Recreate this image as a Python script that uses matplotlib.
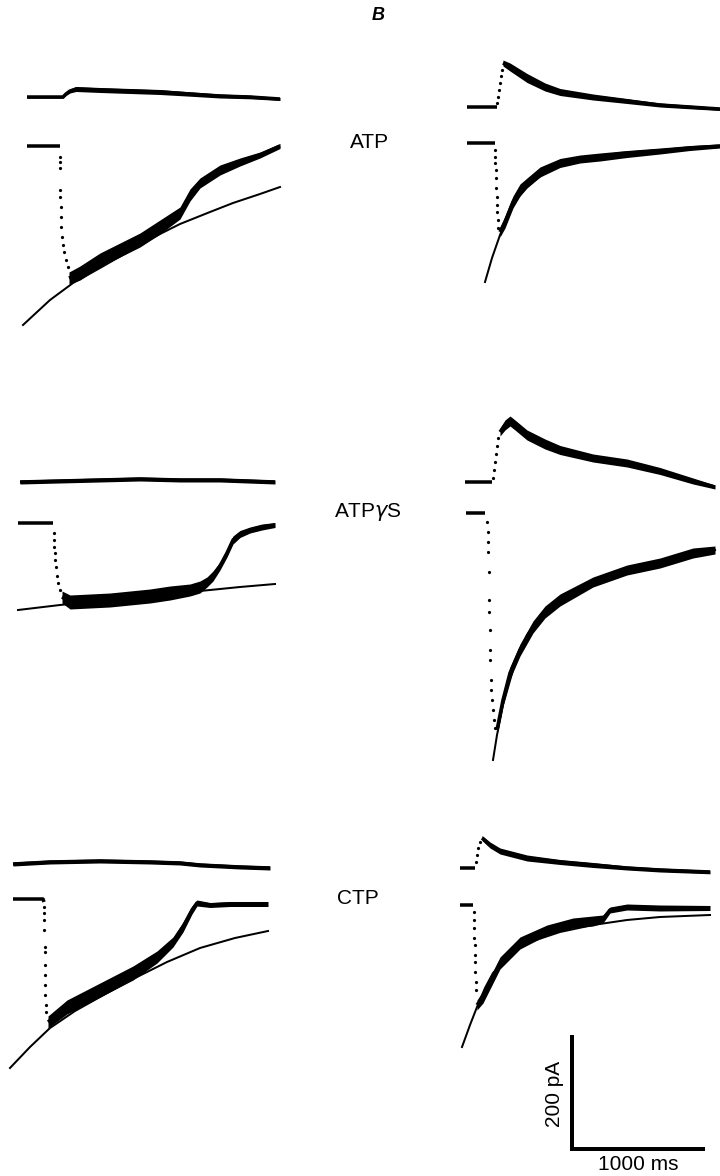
import numpy as np
import matplotlib
matplotlib.use("Agg")
import matplotlib.pyplot as plt

# all values, in image pixels (x right, y down)

# ---- ATP, left cell ----
atp_l_top_x = [27, 63, 66, 70, 76, 100, 130, 160, 190, 220, 250, 280]
atp_l_top_y = [97, 97, 94, 91, 89, 90, 91, 92, 94, 96, 97, 99]
atp_l_top_w = [1.2, 1.2, 1.5, 2, 2.5, 2.5, 2.5, 2.5, 2.2, 2, 1.8, 1.5]
atp_l_base_x = [27, 60]
atp_l_base_y = [146, 146]
atp_l_drop_x = [60, 60, 60, 60, 60, 61, 61, 61, 62, 63, 64, 66, 68]
atp_l_drop_y = [157, 162, 168, 190, 197, 207, 217, 227, 237, 245, 252, 260, 267]
atp_l_bot_x = [69, 80, 100, 120, 140, 160, 180, 190, 200, 220, 240, 260, 280]
atp_l_bot_y = [278, 273, 260, 250, 240, 227, 213, 195, 183, 170, 162, 155, 146]
atp_l_bot_w = [6, 7, 7, 7, 7, 7, 6, 6, 5, 5, 4, 3, 2.5]
atp_l_fit_x = [23, 50, 73, 100, 133, 160, 180, 210, 233, 260, 280]
atp_l_fit_y = [325, 300, 283, 268, 249, 234, 224, 212, 203, 194, 187]

# ---- ATP, right cell ----
atp_r_top_base_x = [467, 497]
atp_r_top_base_y = [107, 107]
atp_r_rise_x = [497, 498, 499, 500, 501, 502]
atp_r_rise_y = [103, 97, 90, 83, 76, 70]
atp_r_top_x = [503, 510, 527, 545, 560, 593, 627, 660, 690, 720]
atp_r_top_y = [63, 67, 78, 87, 92, 97, 101, 105, 107, 109]
atp_r_top_w = [3, 4, 4.5, 4, 3.5, 3, 2.5, 2, 1.8, 1.5]
atp_r_base_x = [467, 495]
atp_r_base_y = [143, 143]
atp_r_drop_x = [495, 495, 495, 496, 496, 496, 497, 497, 497, 498, 498]
atp_r_drop_y = [150, 157, 163, 170, 178, 188, 197, 205, 212, 220, 228]
atp_r_bot_x = [500, 505, 513, 520, 527, 540, 560, 580, 600, 627, 660, 690, 720]
atp_r_bot_y = [232, 222, 202, 190, 183, 172, 163, 159, 157, 154, 151, 148, 146]
atp_r_bot_w = [5, 6, 6, 6, 5, 5, 4.5, 4, 4, 3.5, 3, 2.5, 2]
atp_r_fit_x = [485, 492, 500, 508, 515, 527, 545, 560, 590, 620, 660, 720]
atp_r_fit_y = [282, 258, 235, 215, 202, 186, 173, 166, 158, 153, 150, 147]

# ---- ATPgS, left cell ----
gs_l_top_x = [20, 60, 100, 140, 180, 220, 275]
gs_l_top_y = [482, 481, 480, 479, 480, 480, 482]
gs_l_top_w = [2, 2, 2, 2, 2, 2, 2]
gs_l_base_x = [18, 53]
gs_l_base_y = [523, 523]
gs_l_drop_x = [54, 54, 54, 55, 55, 56, 57, 58, 60]
gs_l_drop_y = [533, 540, 547, 553, 560, 567, 576, 583, 590]
gs_l_bot_x = [62, 70, 90, 110, 130, 150, 170, 190, 200, 207, 213, 220, 227, 233, 240, 250, 262, 275]
gs_l_bot_y = [597, 602, 601, 600, 598, 596, 593, 590, 587, 582, 576, 566, 553, 540, 534, 530, 527, 525]
gs_l_bot_w = [6, 7, 7, 7, 7, 7, 7, 6, 6, 5, 5, 4, 4, 4, 3.5, 3, 3, 2.5]
gs_l_fit_x = [18, 60, 100, 150, 200, 240, 275]
gs_l_fit_y = [610, 605, 601, 596, 591, 587, 584]

# ---- ATPgS, right cell ----
gs_r_top_base_x = [465, 492]
gs_r_top_base_y = [482, 482]
gs_r_rise_x = [493, 494, 495, 496, 497, 498]
gs_r_rise_y = [478, 470, 462, 454, 446, 438]
gs_r_top_x = [500, 505, 510, 515, 527, 545, 560, 593, 627, 660, 693, 715]
gs_r_top_y = [432, 425, 421, 425, 435, 444, 450, 458, 463, 471, 481, 487]
gs_r_top_w = [4, 5, 5, 5, 5, 5, 4.5, 4, 4, 3.5, 3, 2]
gs_r_base_x = [466, 485]
gs_r_base_y = [513, 513]
gs_r_drop_x = [487, 488, 488, 488, 489, 489, 489, 490, 490, 490, 491, 491, 492, 493, 494, 495]
gs_r_drop_y = [522, 532, 542, 552, 572, 600, 612, 630, 650, 660, 680, 690, 700, 710, 720, 728]
gs_r_bot_x = [497, 503, 510, 520, 533, 545, 560, 593, 627, 660, 693, 715]
gs_r_bot_y = [730, 700, 673, 650, 627, 612, 600, 582, 570, 563, 553, 550]
gs_r_bot_w = [5, 6, 6, 6, 6, 6, 6, 5, 5, 5, 5, 4]
gs_r_fit_x = [493, 497, 503, 513, 527, 545, 560, 593, 627, 660, 693, 715]
gs_r_fit_y = [760, 735, 705, 670, 635, 612, 600, 582, 570, 561, 554, 550]

# ---- CTP, left cell ----
ctp_l_top_x = [13, 50, 100, 150, 180, 200, 240, 270]
ctp_l_top_y = [864, 862, 861, 862, 863, 865, 867, 868]
ctp_l_top_w = [2, 2, 2, 2, 2, 2, 2, 2]
ctp_l_base_x = [13, 43, 44]
ctp_l_base_y = [899, 899, 902]
ctp_l_drop_x = [44, 44, 44, 44, 45, 45, 45, 45, 45, 45, 46, 46]
ctp_l_drop_y = [907, 913, 920, 930, 947, 952, 965, 975, 985, 995, 1005, 1012]
ctp_l_bot_x = [48, 67, 100, 133, 157, 173, 183, 192, 197, 210, 230, 268]
ctp_l_bot_y = [1022, 1007, 990, 973, 957, 942, 927, 910, 903, 905, 904, 904]
ctp_l_bot_w = [6, 7, 7, 7, 6, 5, 5, 4, 3, 2.5, 2.5, 2.5]
ctp_l_fit_x = [10, 30, 50, 75, 100, 133, 167, 200, 235, 268]
ctp_l_fit_y = [1068, 1047, 1028, 1011, 997, 979, 962, 948, 938, 931]

# ---- CTP, right cell ----
ctp_r_top_base_x = [460, 475]
ctp_r_top_base_y = [868, 868]
ctp_r_rise_x = [476, 477, 478, 480]
ctp_r_rise_y = [862, 855, 848, 842]
ctp_r_top_x = [482, 490, 500, 527, 560, 593, 627, 660, 710]
ctp_r_top_y = [838, 845, 851, 858, 862, 865, 868, 870, 872]
ctp_r_top_w = [2.5, 3, 3, 3, 2.5, 2.5, 2, 2, 1.8]
ctp_r_base_x = [460, 473]
ctp_r_base_y = [905, 905]
ctp_r_drop_x = [474, 474, 474, 474, 475, 475, 475, 475, 476, 476]
ctp_r_drop_y = [912, 920, 928, 938, 945, 955, 962, 972, 982, 990]
ctp_r_bot_x = [477, 483, 500, 520, 547, 573, 593, 603, 610, 627, 660, 710]
ctp_r_bot_y = [1005, 997, 963, 943, 930, 923, 921, 919, 910, 907, 908, 908]
ctp_r_bot_w = [5, 6, 6, 6, 5, 5, 5, 4, 3, 3, 3, 2.5]
ctp_r_fit_x = [462, 470, 477, 485, 493, 510, 527, 560, 593, 627, 660, 710]
ctp_r_fit_y = [1047, 1025, 1007, 988, 973, 955, 943, 932, 925, 920, 917, 915]

# scale bar: 200 pA, 1000 ms
bar_x = [572, 572, 705]
bar_y = [1035, 1149, 1149]

labels = ["ATP", "ATP$\\gamma$S", "CTP"]
label_x = [370, 368, 358]
label_y = [142, 512, 898]

PX = 0.72  # points per pixel at dpi 100


def noisy(ax, x, y, w):
    x = np.array(x, float)
    y = np.array(y, float)
    w = np.array(w, float)
    ax.fill_between(x, y - w, y + w, color='black', lw=0)
    ax.plot(x, y, color='black', lw=3.5 * PX, solid_capstyle='butt')


def flat(ax, x, y):
    ax.plot(x, y, color='black', lw=3.5 * PX, solid_capstyle='butt')


def dots(ax, x, y):
    ax.plot(x, y, 'o', color='black', ms=3.2 * PX, mew=0)


def fit(ax, x, y):
    ax.plot(x, y, color='black', lw=2 * PX)


fig = plt.figure(figsize=(7.2, 11.76), dpi=100)
ax = fig.add_axes([0, 0, 1, 1])
ax.set_xlim(0, 720)
ax.set_ylim(1176, 0)
ax.axis('off')

# left ATP
noisy(ax, atp_l_top_x, atp_l_top_y, atp_l_top_w)
flat(ax, atp_l_base_x, atp_l_base_y)
dots(ax, atp_l_drop_x, atp_l_drop_y)
noisy(ax, atp_l_bot_x, atp_l_bot_y, atp_l_bot_w)
fit(ax, atp_l_fit_x, atp_l_fit_y)

# right ATP
flat(ax, atp_r_top_base_x, atp_r_top_base_y)
dots(ax, atp_r_rise_x, atp_r_rise_y)
noisy(ax, atp_r_top_x, atp_r_top_y, atp_r_top_w)
flat(ax, atp_r_base_x, atp_r_base_y)
dots(ax, atp_r_drop_x, atp_r_drop_y)
noisy(ax, atp_r_bot_x, atp_r_bot_y, atp_r_bot_w)
fit(ax, atp_r_fit_x, atp_r_fit_y)

# left ATPgS
noisy(ax, gs_l_top_x, gs_l_top_y, gs_l_top_w)
flat(ax, gs_l_base_x, gs_l_base_y)
dots(ax, gs_l_drop_x, gs_l_drop_y)
noisy(ax, gs_l_bot_x, gs_l_bot_y, gs_l_bot_w)
fit(ax, gs_l_fit_x, gs_l_fit_y)

# right ATPgS
flat(ax, gs_r_top_base_x, gs_r_top_base_y)
dots(ax, gs_r_rise_x, gs_r_rise_y)
noisy(ax, gs_r_top_x, gs_r_top_y, gs_r_top_w)
flat(ax, gs_r_base_x, gs_r_base_y)
dots(ax, gs_r_drop_x, gs_r_drop_y)
noisy(ax, gs_r_bot_x, gs_r_bot_y, gs_r_bot_w)
fit(ax, gs_r_fit_x, gs_r_fit_y)

# left CTP
noisy(ax, ctp_l_top_x, ctp_l_top_y, ctp_l_top_w)
flat(ax, ctp_l_base_x, ctp_l_base_y)
dots(ax, ctp_l_drop_x, ctp_l_drop_y)
noisy(ax, ctp_l_bot_x, ctp_l_bot_y, ctp_l_bot_w)
fit(ax, ctp_l_fit_x, ctp_l_fit_y)

# right CTP
flat(ax, ctp_r_top_base_x, ctp_r_top_base_y)
dots(ax, ctp_r_rise_x, ctp_r_rise_y)
noisy(ax, ctp_r_top_x, ctp_r_top_y, ctp_r_top_w)
flat(ax, ctp_r_base_x, ctp_r_base_y)
dots(ax, ctp_r_drop_x, ctp_r_drop_y)
noisy(ax, ctp_r_bot_x, ctp_r_bot_y, ctp_r_bot_w)
fit(ax, ctp_r_fit_x, ctp_r_fit_y)

# labels
for txt, lx, ly in zip(labels, label_x, label_y):
    ax.text(lx, ly, txt, ha='center', va='center', fontsize=15,
            family='Liberation Sans', color='black')

ax.text(378, 15, 'B', ha='center', va='center', fontsize=13,
        family='Liberation Sans', weight='bold', style='italic')

# scale bar
ax.plot(bar_x, bar_y, color='black', lw=4 * PX, solid_joinstyle='miter',
        solid_capstyle='butt')
ax.text(555, 1094, '200 pA', rotation=90, ha='center', va='center',
        fontsize=15, family='Liberation Sans')
ax.text(638, 1165, '1000 ms', ha='center', va='center',
        fontsize=15, family='Liberation Sans')

fig.savefig('out.png', dpi=100, facecolor='white')
